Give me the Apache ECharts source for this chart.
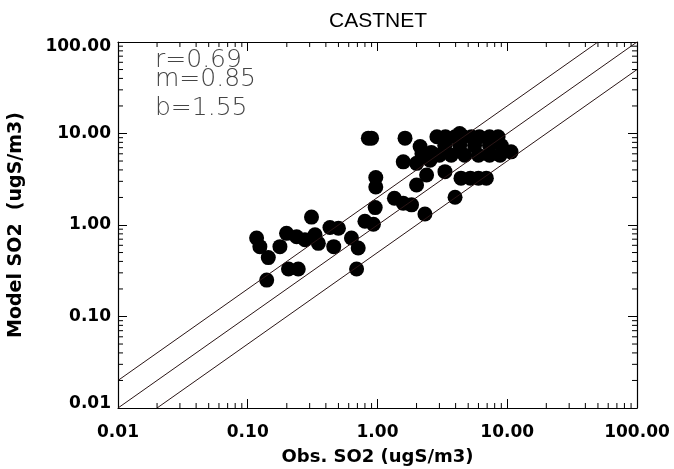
<!DOCTYPE html>
<html><head><meta charset="utf-8">
<script src="https://cdn.jsdelivr.net/npm/echarts@6/dist/echarts.min.js"></script>
<style>html,body{margin:0;padding:0;background:#fff}#c{width:674px;height:469px}</style>
</head><body><div id="c"></div>
<script>
const obsX = [0.117,0.124,0.144,0.14,0.177,0.199,0.238,0.276,0.31,0.33,0.35,0.43,0.50,0.46,0.206,0.245,0.63,0.71,0.69,0.80,0.93,0.96,
  0.85,0.90,0.97,0.97,1.35,1.58,1.83,1.63,1.58,2.0,2.13,2.0,2.39,2.32,2.54,3.31,3.96,4.4,5.2,6.0,6.9,
  2.87,3.34,3.96,4.6,5.3,6.1,7.3,8.5,4.3,
  3.3,4.3,5.6,7.3,9.0,
  3.0,3.7,4.7,6.0,7.3,8.8,10.7,2.2,2.6];
const modelY = [0.72,0.58,0.44,0.25,0.58,0.81,0.745,0.69,1.22,0.78,0.63,0.94,0.92,0.58,0.33,0.33,0.72,0.56,0.33,1.1,1.02,1.55,
  8.9,8.9,3.3,2.6,1.96,1.73,1.66,8.9,4.9,4.72,7.2,2.74,3.52,1.32,5.1,3.83,2.01,3.25,3.25,3.25,3.25,
  9.2,9.2,9.2,9.2,9.2,9.2,9.2,9.2,10.0,
  7.4,7.4,7.4,7.4,7.4,
  5.8,5.8,5.8,5.8,5.8,5.8,6.3,6.0,6.2];
const lineOneToOne = [[0.01,0.01],[100,100]];
const lineTwoToOne = [[0.01,0.02],[50,100]];
const lineOneToTwo = [[0.02,0.01],[100,50]];
const statsText = ['r=0.69','m=0.85','b=1.55'];
const minorTicks = [];
[0.01,0.1,1,10].forEach(d=>{for(let k=2;k<=9;k++) minorTicks.push(+(d*k).toPrecision(3));});

const chart = echarts.init(document.getElementById('c'));
const F = 'DejaVu Sans';
const lab = {fontFamily:F,fontWeight:'bold',fontSize:17,color:'#000'};
const fmt = v => Number(v).toFixed(2);
function axisBase(pos, showLabel){
  return {type:'log',logBase:10,min:0.01,max:100,position:pos,
    axisLine:{show:true,lineStyle:{color:'#000',width:1.2}},
    axisTick:{show:true,inside:true,length:9,lineStyle:{color:'#000',width:1}},
    splitLine:{show:false},
    axisLabel:Object.assign({show:showLabel,formatter:fmt},lab)};
}
const nameStyle = {fontFamily:F,fontWeight:'bold',fontSize:18,color:'#000'};
const xb = axisBase('bottom',true); xb.axisLabel.margin=16;
xb.name='Obs. SO2 (ugS/m3)'; xb.nameLocation='middle'; xb.nameGap=40;
xb.nameTextStyle=nameStyle;
const xt = axisBase('top',false);
const yl = axisBase('left',true); yl.axisLabel.margin=7;
yl.axisLabel.formatter = v => {
  const s = Number(v).toFixed(2);
  if (Math.abs(v-100)<1e-9) return '{top|'+s+'}';
  if (Math.abs(v-0.01)<1e-12) return '{bot|'+s+'}';
  return s;
};
yl.axisLabel.rich = {
  top:{fontFamily:F,fontWeight:'bold',fontSize:17,color:'#000',padding:[10,0,0,0]},
  bot:{fontFamily:F,fontWeight:'bold',fontSize:17,color:'#000',padding:[0,0,9,0]}
};
yl.name='Model SO2  (ugS/m3)'; yl.nameLocation='middle'; yl.nameGap=92;
yl.nameTextStyle=Object.assign({},nameStyle,{fontSize:19});
const yr = axisBase('right',false);

const refLine = d => ({type:'line',data:d,symbol:'none',silent:true,z:5,
  lineStyle:{color:'#2a1515',width:1},animation:false});

const statBase = [73,92,121];
chart.setOption({
  animation:false,
  grid:{left:118,right:37,top:42,bottom:61,containLabel:false,outerBoundsMode:'none'},
  xAxis:[xb,xt],
  yAxis:[yl,yr],
  graphic:[
    {type:'text',x:378,y:21,style:{text:'CASTNET',fontFamily:'Liberation Sans',fontSize:21,fill:'#000',
      textAlign:'center',textVerticalAlign:'middle'}},
    ...statsText.map((t,i)=>({type:'text',x:155,y:statBase[i],
      style:{text:t,fontFamily:'DejaVu Sans',fontWeight:'lighter',fontSize:25,fill:'#444',
        textAlign:'left',textVerticalAlign:'bottom'}}))
  ],
  series:[
    {type:'scatter',data:obsX.map((x,i)=>[x,modelY[i]]),symbol:'circle',symbolSize:15,
      itemStyle:{color:'#000',opacity:1},z:3},
    refLine(lineOneToOne),refLine(lineTwoToOne),refLine(lineOneToTwo),
    {type:'custom',silent:true,z:6,data:minorTicks.map(v=>[v]),
      renderItem:function(params,api){
        const v=api.value(0); const cs=params.coordSys;
        const px=api.coord([v,1])[0]; const py=api.coord([1,v])[1];
        const L=5, st={stroke:'#000',lineWidth:1};
        const x0=cs.x,x1=cs.x+cs.width,y0=cs.y,y1=cs.y+cs.height;
        return {type:'group',children:[
          {type:'line',shape:{x1:px,y1:y1,x2:px,y2:y1-L},style:st},
          {type:'line',shape:{x1:px,y1:y0,x2:px,y2:y0+L},style:st},
          {type:'line',shape:{x1:x0,y1:py,x2:x0+L,y2:py},style:st},
          {type:'line',shape:{x1:x1,y1:py,x2:x1-L,y2:py},style:st}
        ]};
      }}
  ]
});
</script></body></html>
